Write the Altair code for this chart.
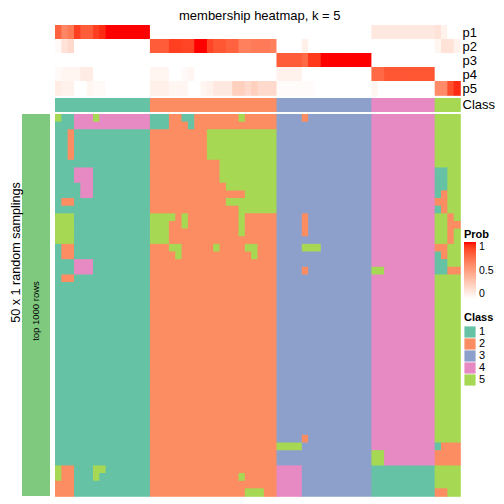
import altair as alt
import pandas as pd

FONT = "Liberation Sans"
TITLE = "membership heatmap, k = 5"
LEFT_LABEL = "50 x 1 random samplings"
BAR_LABEL = "top 1000 rows"

CLASS_LEVELS = ["1", "2", "3", "4", "5"]
CLASS_COLORS = ["#66C2A5", "#FC8D62", "#8DA0CB", "#E78AC3", "#A6D854"]
BAR_COLOR = "#7FC97F"

# column class annotation (64 samples)
COL_CLASS = "1" * 15 + "2" * 20 + "3" * 15 + "4" * 10 + "5" * 4

P_LABELS = ["p1", "p2", "p3", "p4", "p5"]
P1 = [0.78, 0.62, 0.68, 0.9, 0.8, 0.8, 0.9, 0.95, 1, 1, 1, 1, 1, 1, 1,
      0, 0, 0, 0, 0, 0, 0, 0, 0, 0, 0, 0, 0, 0, 0, 0, 0, 0, 0, 0,
      0, 0, 0, 0, 0, 0, 0, 0, 0, 0, 0, 0, 0, 0, 0,
      0.12, 0.12, 0.12, 0.12, 0.12, 0.12, 0.12, 0.12, 0.12, 0.12,
      0.15, 0.07, 0, 0]
P2 = [0.03, 0.15, 0.2, 0, 0, 0, 0, 0, 0, 0, 0, 0, 0, 0, 0,
      0.8, 0.8, 0.8, 0.9, 0.9, 0.88, 0.88, 1, 1, 0.88, 0.82, 0.82, 0.78, 0.78,
      0.65, 0.65, 0.67, 0.67, 0.67, 0.65,
      0, 0, 0, 0, 0.08, 0, 0, 0, 0, 0, 0, 0, 0, 0, 0,
      0, 0, 0, 0, 0, 0, 0, 0, 0, 0,
      0.05, 0.15, 0.15, 0.07]
P3 = [0] * 35 + [0.8, 0.8, 0.8, 0.8, 0.75, 0.92, 0.92, 1, 1, 1, 1, 1, 1, 1, 1] + [0] * 14
P4 = [0.03, 0.05, 0.05, 0.05, 0.1, 0.1, 0, 0, 0, 0, 0, 0, 0, 0, 0,
      0.05, 0.05, 0.05, 0, 0, 0.03, 0.05, 0, 0, 0, 0, 0, 0, 0, 0, 0, 0, 0, 0, 0,
      0.07, 0.07, 0.07, 0.07, 0, 0, 0, 0, 0, 0, 0, 0, 0, 0, 0,
      0.75, 0.75, 0.82, 0.82, 0.82, 0.82, 0.82, 0.82, 0.82, 0.82,
      0, 0, 0, 0]
P5 = [0.1, 0.07, 0.07, 0, 0, 0.05, 0.03, 0.03, 0, 0, 0, 0, 0, 0, 0,
      0.08, 0.08, 0.08, 0.05, 0.05, 0.05, 0, 0, 0.05, 0.07, 0.12, 0.12, 0.12,
      0.25, 0.25, 0.2, 0.25, 0.2, 0.2, 0.2,
      0.02, 0.02, 0.02, 0.02, 0.02, 0.02, 0, 0, 0, 0, 0, 0, 0, 0, 0,
      0.05, 0, 0, 0, 0, 0, 0, 0, 0, 0,
      0.6, 0.6, 0.85, 0.95]

# class calls of each random sampling (rows) per sample (columns)
L1 = "1" * 15
M2 = "2" * 20
T3 = "3" * 15
F4 = "4" * 10
R5 = "5555"
HEAT_ROWS = [
    "511444544444444" "11122112222222522222" "333323333333333" + F4 + "5555",
    "111444444444444" "11122212222222222222" + T3 + F4 + "5555",
    "112111111111111" "22222222255555555555" + T3 + F4 + "5555",
    "112111111111111" "22222222255555555555" + T3 + F4 + "5555",
    "112111111111111" "22222222255555555555" + T3 + F4 + "5555",
    "112111111111111" "22222222255555555555" + T3 + F4 + "5555",
    L1 + "22222222222555555555" + T3 + F4 + "5555",
    "111444111111111" "22222222222555555555" + T3 + F4 + "1155",
    "111444111111111" "22222222222555555555" + T3 + F4 + "1155",
    "111144111111111" "22222222222255555555" + T3 + F4 + "1155",
    "111144111111111" "22222222222222255555" + T3 + F4 + "1255",
    "122111111111111" "22222222222255555555" + T3 + F4 + "2255",
    L1 + "22222222222222555555" + T3 + F4 + "1255",
    "555111111111111" "55552522222222522222" "333323333333333" + F4 + "5525",
    "555111111111111" "55522522222222522222" "333323333333333" + F4 + "5522",
    "555111111111111" "55522222222222522222" "333323333333333" + F4 + "5525",
    "555111111111111" "55522222222222222222" + T3 + F4 + "5525",
    "122111111111111" "22255222225222255222" "333355533333333" + F4 + "2255",
    "122111111111111" "22225222222222225222" + T3 + F4 + "1255",
    "111444111111111" + M2 + T3 + F4 + "1155",
    "111444111111111" + M2 + "333323333333333" "5544444444" "1122",
    "122111111111111" + M2 + T3 + F4 + R5,
] + [L1 + M2 + T3 + F4 + R5] * 20 + [
    L1 + M2 + "333323333333333" + F4 + R5,
    L1 + M2 + "555533333333333" + F4 + "1222",
    L1 + M2 + T3 + "5544444444" "2222",
    L1 + M2 + T3 + "5544444444" "2222",
    "522111551111111" + M2 + "444433333333333" "1111111111" "5555",
    "522111511111111" "22222222222222522222" "444433333333333" "1111111111" "5555",
    "222111111111111" + M2 + "444433333333333" "1111111111" "5555",
    "222111111111111" "22222222222222255522" "444433333333333" "1111111111" "2255",
]


def runs_of(s):
    out, start = [], 0
    for c in range(1, len(s) + 1):
        if c == len(s) or s[c] != s[start]:
            out.append((start, c, s[start]))
            start = c
    return out


# ---- tables ----
heat_df = pd.DataFrame(
    [{"row": r, "row2": r + 1, "c0": a, "c1": b, "cls": k}
     for r, s in enumerate(HEAT_ROWS) for a, b, k in runs_of(s)]
)
prob_df = pd.DataFrame(
    [{"k": i, "k2": i + 1, "c0": c, "c1": c + 1, "prob": v}
     for i, vals in enumerate([P1, P2, P3, P4, P5]) for c, v in enumerate(vals)]
)
class_df = pd.DataFrame([{"lab": "Class", "c0": a, "c1": b, "cls": k} for a, b, k in runs_of(COL_CLASS)])
bar_df = pd.DataFrame({"g": [BAR_LABEL]})

NCOL = len(COL_CLASS)
NROW = len(HEAT_ROWS)
band = alt.Scale(paddingInner=0, paddingOuter=0)
xq = alt.Scale(domain=[0, NCOL], nice=False, zero=False)
cls_scale = alt.Scale(domain=CLASS_LEVELS, range=CLASS_COLORS)
prob_scale = alt.Scale(domain=[0, 1], range=["#FFFFFF", "#FF0000"], interpolate="lab")

W = 405
H_MAIN = 382
ROW_H = 14
OV = 0.8  # small overlap to hide anti-aliasing seams

class_legend = alt.Legend(
    title="Class", orient="none", legendX=442, legendY=287, padding=0,
    symbolType="square", symbolSize=125, symbolStrokeWidth=0,
    rowPadding=0, titleFontSize=11, titleFontWeight="bold", labelFontSize=11,
    titleFont=FONT, labelFont=FONT, titleColor="black", labelColor="black",
    titlePadding=3, labelOffset=3,
)
prob_legend = alt.Legend(
    title="Prob", orient="none", legendX=442, legendY=204, padding=0, direction="vertical",
    gradientLength=57, gradientThickness=12, values=[0, 0.5, 1], format=".1~f",
    titleFontSize=11, titleFontWeight="bold", labelFontSize=10.5,
    titleFont=FONT, labelFont=FONT, titleColor="black", labelColor="black",
    titlePadding=2, labelOffset=3, gradientStrokeWidth=0,
)

right_axis = dict(orient="right", title=None, ticks=False, domain=False, grid=False,
                  labelFontSize=13, labelPadding=2, labelColor="black", labelFont=FONT,
                  minExtent=0)

probs = alt.Chart(prob_df).mark_rect(x2Offset=OV, y2Offset=OV).encode(
    x=alt.X("c0:Q", axis=None, scale=xq),
    x2="c1",
    y=alt.Y("k:Q", scale=alt.Scale(domain=[0, len(P_LABELS)], nice=False, zero=False, reverse=True),
            axis=alt.Axis(values=[i + 0.5 for i in range(len(P_LABELS))],
                          labelExpr="'p' + (datum.value + 0.5)", **right_axis)),
    y2="k2",
    fill=alt.Fill("prob:Q", scale=prob_scale, legend=prob_legend),
).properties(width=W, height=ROW_H * len(P_LABELS))

classrow = alt.Chart(class_df).mark_rect(x2Offset=OV).encode(
    x=alt.X("c0:Q", axis=None, scale=xq),
    x2="c1",
    y=alt.Y("lab:N", scale=band, axis=alt.Axis(**right_axis)),
    color=alt.Color("cls:N", scale=cls_scale, legend=class_legend),
).properties(width=W, height=ROW_H)

heat = alt.Chart(heat_df).mark_rect(x2Offset=OV, y2Offset=OV).encode(
    x=alt.X("c0:Q", axis=None, scale=xq),
    x2="c1",
    y=alt.Y("row:Q", axis=None, scale=alt.Scale(domain=[0, NROW], nice=False, zero=False, reverse=True)),
    y2="row2",
    color=alt.Color("cls:N", scale=cls_scale, legend=class_legend),
).properties(width=W, height=H_MAIN)

bar = alt.Chart(bar_df).mark_rect(color=BAR_COLOR).encode(
    x=alt.X("g:N", axis=None, scale=band),
    y=alt.Y("g:N", scale=band, axis=alt.Axis(
        title=LEFT_LABEL, labels=False, ticks=False, domain=False, minExtent=0,
        titleFontSize=12.6, titleFontWeight="normal", titleFont=FONT,
        titleColor="black", titlePadding=0, titleY=138)),
)
bar_text = bar.mark_text(angle=270, fontSize=9.5, font=FONT, color="black", dx=-6).encode(text="g:N")
left = (bar + bar_text).properties(width=28, height=H_MAIN)


def blank(h):
    return alt.Chart(bar_df).mark_rect(color="white").encode(
        x=alt.X("g:N", axis=None, scale=band),
        y=alt.Y("g:N", axis=None, scale=band),
    ).properties(width=28, height=h)


chart = alt.concat(
    blank(ROW_H * len(P_LABELS)), probs,
    blank(ROW_H), classrow,
    left, heat,
    columns=2, spacing={"row": 2, "column": 5}, align="each",
).properties(
    title=alt.TitleParams(TITLE, fontSize=13, fontWeight="normal", font=FONT,
                          anchor="start", dx=170, offset=2, color="black"),
    padding={"left": 1, "top": 2, "right": 0, "bottom": 0},
    background="white",
).configure_view(stroke=None)

chart.save("out.html", embed_options={"renderer": "svg", "actions": False})
